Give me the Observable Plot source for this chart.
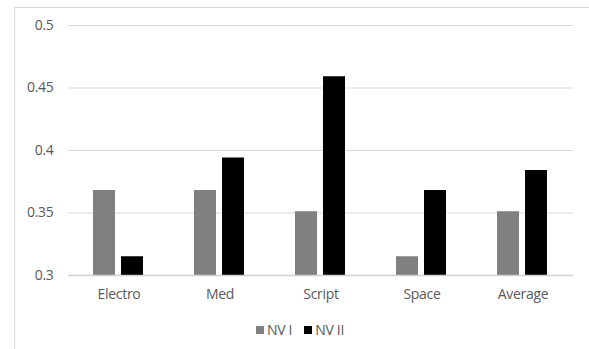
<!DOCTYPE html>
<html>
<head>
<meta charset="utf-8">
<script src="https://cdn.jsdelivr.net/npm/d3@7"></script>
<script src="https://cdn.jsdelivr.net/npm/@observablehq/plot@0.6"></script>
<style>
  html, body { margin: 0; padding: 0; background: #fff; }
  #wrap { position: relative; width: 589px; height: 349px; overflow: hidden; font-family: "Open Sans", sans-serif; }
  #frame { position: absolute; left: 14px; top: 7px; width: 600px; height: 400px; border-left: 1px solid #d9d9d9; border-top: 1px solid #d9d9d9; }
  #chart { position: absolute; left: 0; top: 0; }
  #chart svg text { letter-spacing: -0.3px; }
  #legend { position: absolute; left: 256px; top: 320px; display: flex; align-items: center; font-size: 14px; letter-spacing: -0.3px; color: #595959; }
  .sw { width: 8px; height: 8px; display: inline-block; margin-right: 3px; }
  .item { display: flex; align-items: center; margin-right: 12px; }
</style>
</head>
<body>
<div id="wrap">
  <div id="frame"></div>
  <div id="chart"></div>
  <div id="legend"></div>
</div>
<script>
const categories = ["Electro", "Med", "Script", "Space", "Average"];
const seriesNames = ["NV I", "NV II"];
const nv1 = [0.368, 0.368, 0.351, 0.315, 0.351];
const nv2 = [0.315, 0.394, 0.459, 0.368, 0.384];
const yTicks = [0.3, 0.35, 0.4, 0.45, 0.5];
const colors = ["#808080", "#000000"];

const data = [];
categories.forEach((c, i) => {
  data.push({cat: c, series: seriesNames[0], value: nv1[i]});
  data.push({cat: c, series: seriesNames[1], value: nv2[i]});
});

const chart = Plot.plot({
  width: 589,
  height: 315,
  marginLeft: 67,
  marginRight: 16,
  marginTop: 25,
  marginBottom: 40,
  style: {fontFamily: "Open Sans, sans-serif", fontSize: "14px", color: "#595959", background: "transparent"},
  fx: {domain: categories, padding: 0, label: null, axis: "bottom", tickSize: 0, tickPadding: 14},
  x: {domain: seriesNames, paddingInner: 0.21, paddingOuter: 0.87, axis: null},
  y: {domain: [0.3, 0.5], ticks: yTicks, label: null, tickSize: 0, tickPadding: 15, tickFormat: d => String(d)},
  color: {domain: seriesNames, range: colors},
  marks: [
    Plot.gridY(yTicks, {stroke: "#d9d9d9", strokeOpacity: 1}),
    Plot.barY(data, {fx: "cat", x: "series", y: "value", fill: "series", clip: true}),
    Plot.ruleY([0.3], {stroke: "#d0d0d0", strokeWidth: 1.5})
  ]
});
document.getElementById("chart").appendChild(chart);

const legend = document.getElementById("legend");
seriesNames.forEach((s, i) => {
  const item = document.createElement("div");
  item.className = "item";
  const sw = document.createElement("span");
  sw.className = "sw";
  sw.style.background = colors[i];
  const t = document.createElement("span");
  t.textContent = s;
  item.appendChild(sw);
  item.appendChild(t);
  legend.appendChild(item);
});
</script>
</body>
</html>
